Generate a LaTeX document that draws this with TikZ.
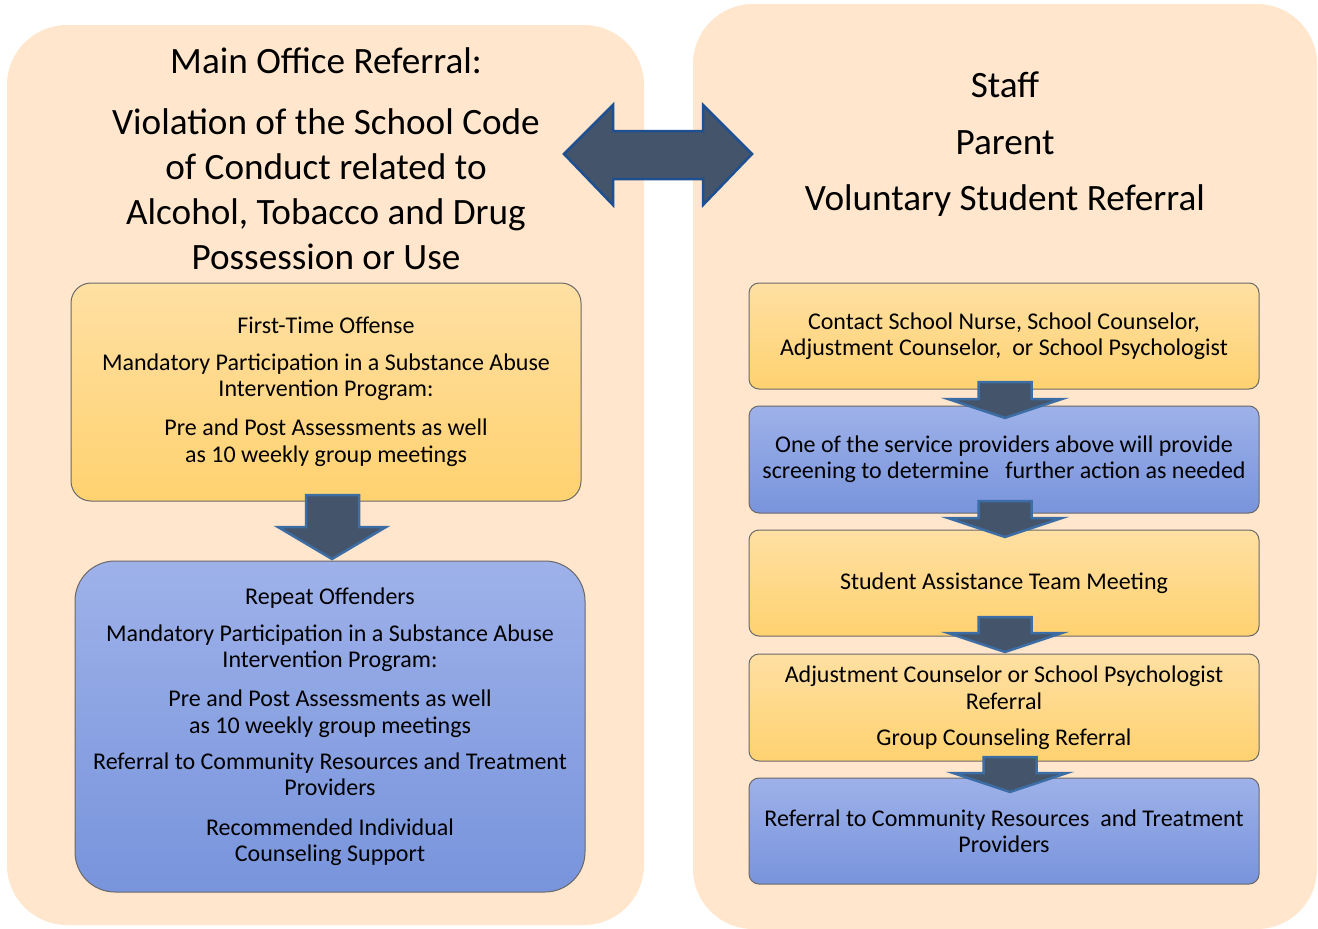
\documentclass[tikz,border=0pt]{standalone}
\usepackage{fontspec}
\setmainfont{Carlito}
\usetikzlibrary{calc}
\definecolor{panel}{RGB}{255,230,204}
\definecolor{yeltop}{RGB}{255,224,163}
\definecolor{yelbot}{RGB}{255,210,112}
\definecolor{bluetop}{RGB}{158,177,233}
\definecolor{bluebot}{RGB}{120,148,220}
\definecolor{boxline}{RGB}{105,105,105}
\definecolor{arrfill}{RGB}{68,84,106}
\definecolor{arrline}{RGB}{30,80,145}
\definecolor{arrline2}{RGB}{60,110,165}
\newcommand{\dnarrow}[5]{% cx, shaft top, head y, tip y, style
  \draw[#5] (#1-26.5,#2) -- (#1+26.5,#2) -- (#1+26.5,#3) -- (#1+57,#3) -- (#1,#4) -- (#1-57,#3) -- (#1-26.5,#3) -- cycle;}
\tikzset{
  panelbox/.style={fill=panel, draw=none, rounded corners=60pt, inner sep=0pt},
  ybox/.style={draw=boxline, line width=1pt, top color=yeltop, bottom color=yelbot, minimum width=510pt, align=center, inner sep=0pt, font=\fontsize{24}{26}\selectfont},
  bbox/.style={ybox, top color=bluetop, bottom color=bluebot},
  titletext/.style={align=center, inner sep=0pt, font=\fontsize{37.2}{45}\selectfont},
  blockarrow/.style={fill=arrfill, draw=arrline2, line width=2.5pt, line join=miter},
  bigarrow/.style={fill=arrfill, draw=arrline, line width=2.5pt, line join=miter}
}
\begin{document}
\begin{tikzpicture}[x=1pt,y=-1pt]
\useasboundingbox (0,0) rectangle (1318,929);
% panels
\node[panelbox, minimum width=637pt, minimum height=900pt] (lpanel) at (325.5,475) {};
\node[panelbox, minimum width=624pt, minimum height=925pt] (rpanel) at (1005,466.5) {};
% titles
\node[titletext, anchor=north] (ltitle) at (326,47) {Main Office Referral:\\[16pt]Violation of the School Code\\of Conduct related to\\Alcohol, Tobacco and Drug\\Possession or Use};
\node[titletext, anchor=north] (rtitle) at (1005,71.5) {Staff\\[12pt]Parent\\[11.5pt]Voluntary Student Referral};
% left boxes
\node[ybox, rounded corners=20pt, minimum height=218pt] (first) at (326,392) {First-Time Offense\\[11pt]Mandatory Participation in a Substance Abuse\\Intervention Program:\\[13pt]Pre and Post Assessments as well\\[1pt]as 10 weekly group meetings};
\node[bbox, rounded corners=40pt, minimum height=331pt] (repeat) at (330,726.5) {Repeat Offenders\\[11pt]Mandatory Participation in a Substance Abuse\\Intervention Program:\\[13pt]Pre and Post Assessments as well\\[1pt]as 10 weekly group meetings\\[10pt]Referral to Community Resources and Treatment\\Providers\\[14pt]Recommended Individual\\Counseling Support};
% right boxes
\node[ybox, rounded corners=10pt, minimum height=106pt] (r1) at (1004,336) {Contact School Nurse, School Counselor,\\Adjustment Counselor,\ \ or School Psychologist};
\node[bbox, rounded corners=10pt, minimum height=107pt] (r2) at (1004,459.5) {One of the service providers above will provide\\screening to determine\ \ \ further action as needed};
\node[ybox, rounded corners=10pt, minimum height=106pt] (r3) at (1004,583) {Student Assistance Team Meeting};
\node[ybox, rounded corners=10pt, minimum height=107pt] (r4) at (1004,707.5) {Adjustment Counselor or School Psychologist\\[1pt]Referral\\[10pt]Group Counseling Referral};
\node[bbox, rounded corners=10pt, minimum height=106pt] (r5) at (1004,831) {Referral to Community Resources\ \ and Treatment\\Providers};
% double arrow between panels
\coordinate (dl) at (564,154);
\coordinate (dr) at (752,154);
\draw[bigarrow] (dl) -- (613,105) -- (613,131) -- (703,131) -- (703,105) -- (dr) -- (703,205) -- (703,179) -- (613,179) -- (613,205) -- cycle;
% down arrows
\draw[blockarrow] (306,495) -- (359,495) -- (359,527) -- (386,527) -- (332,559) -- (278,527) -- (306,527) -- cycle;
\dnarrow{1005}{382}{399}{418}{blockarrow}
\dnarrow{1005}{501}{518}{537}{blockarrow}
\dnarrow{1005}{617}{633}{652}{blockarrow}
\dnarrow{1010}{757}{773}{792}{blockarrow}
\end{tikzpicture}
\end{document}
